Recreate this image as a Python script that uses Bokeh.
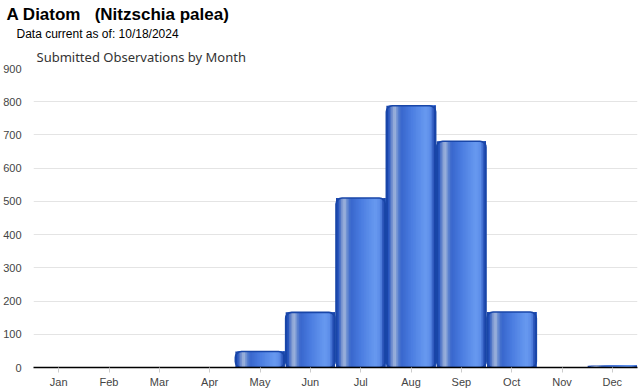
from bokeh.plotting import figure
from bokeh.models import ColumnDataSource, FactorRange, Range1d, Title, FixedTicker, CDSView, BooleanFilter
from bokeh.transform import dodge
from bokeh.embed import file_html
from bokeh.resources import INLINE

months = ["Jan", "Feb", "Mar", "Apr", "May", "Jun", "Jul", "Aug", "Sep", "Oct", "Nov", "Dec"]
counts = [0, 0, 0, 0, 48, 166, 510, 788, 681, 167, 0, 5]
y_ticks = [0, 100, 200, 300, 400, 500, 600, 700, 800, 900]

title_text = "A Diatom \u00a0\u00a0(Nitzschia palea)"
subtitle_text = "Data current as of: 10/18/2024"
chart_title = "Submitted Observations by Month"

source = ColumnDataSource(dict(month=months, count=counts))

p = figure(width=640, height=390, x_range=FactorRange(*months), y_range=Range1d(0, 900),
           output_backend="svg", toolbar_location=None,
           min_border_left=30, min_border_right=3, min_border_top=0, min_border_bottom=22)
p.outline_line_color = None
p.background_fill_color = "white"

# gradient profile across each bar (fraction across width -> rgb)
profile = [
    (0.00, (22, 62, 160)),
    (0.05, (40, 86, 190)),
    (0.11, (110, 140, 205)),
    (0.17, (165, 185, 222)),
    (0.23, (100, 136, 208)),
    (0.30, (56, 102, 204)),
    (0.50, (74, 124, 224)),
    (0.80, (104, 154, 240)),
    (0.90, (90, 138, 230)),
    (0.96, (38, 80, 182)),
    (1.00, (22, 62, 160)),
]

def color_at(f):
    for (a, ca), (b, cb) in zip(profile[:-1], profile[1:]):
        if a <= f <= b:
            t = (f - a) / (b - a) if b > a else 0
            c = [int(round(ca[i] + (cb[i] - ca[i]) * t)) for i in range(3)]
            return "#%02x%02x%02x" % tuple(c)
    return "#%02x%02x%02x" % profile[-1][1]

bar_w = 0.98
n = 30
sw = bar_w / n
for i in range(n):
    f = (i + 0.5) / n
    left = -bar_w / 2 + i * sw
    right = bar_w / 2
    p.vbar(x=dodge("month", (left + right) / 2, range=p.x_range), top="count", width=right - left,
           source=source, fill_color=color_at(f), line_color=None)

view = CDSView(filter=BooleanFilter([c > 10 for c in counts]))
p.vbar(x="month", top="count", width=bar_w, source=source, view=view, fill_color=None,
       line_color="#1846a8", line_width=1.6, border_radius=6)

p.xgrid.grid_line_color = None
p.ygrid.grid_line_color = "#e4e4e4"
p.ygrid.ticker = FixedTicker(ticks=y_ticks)

p.yaxis.ticker = FixedTicker(ticks=y_ticks)
p.yaxis.axis_line_color = None
p.yaxis.major_tick_line_color = None
p.yaxis.minor_tick_line_color = None
p.yaxis.major_label_text_font = "Liberation Sans"
p.yaxis.major_label_text_font_size = "11px"
p.yaxis.major_label_text_color = "#444444"
p.yaxis.major_label_standoff = 6

p.xaxis.axis_line_color = "black"
p.xaxis.axis_line_width = 1.6
p.xaxis.major_tick_line_color = "#cccccc"
p.xaxis.major_tick_in = 0
p.xaxis.major_tick_out = 5
p.xaxis.major_label_text_font = "Liberation Sans"
p.xaxis.major_label_text_font_size = "11px"
p.xaxis.major_label_text_color = "#444444"
p.xaxis.major_label_standoff = 3
p.x_range.range_padding = 0

p.add_layout(Title(text=chart_title, align="left", offset=3, text_font="Noto Sans",
                   text_font_size="13px", text_font_style="normal", text_color="#333333",
                   standoff=6), "above")
p.add_layout(Title(text=subtitle_text, align="left", offset=-17, text_font="Liberation Sans",
                   text_font_size="12px", text_font_style="normal", text_color="black",
                   standoff=4), "above")
p.add_layout(Title(text=title_text, align="left", offset=-27, text_font="Liberation Sans",
                   text_font_size="17px", text_font_style="bold", text_color="black",
                   padding=dict(top=3, bottom=0, left=0, right=0), standoff=-2), "above")

open("out.html", "w").write(file_html(p, INLINE))
